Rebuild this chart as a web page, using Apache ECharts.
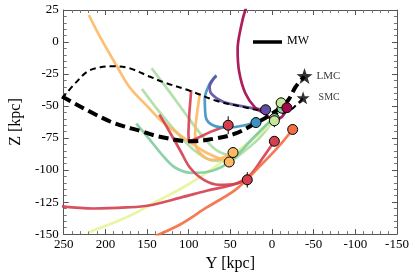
<!DOCTYPE html>
<html><head><meta charset="utf-8">
<script src="https://cdn.jsdelivr.net/npm/echarts@6/dist/echarts.min.js"></script>
<style>html,body{margin:0;padding:0;background:#fff}#c{width:415px;height:277px}</style>
</head><body><div id="c"></div>
<script>
// Tick labels
const xTicks = [250, 200, 150, 100, 50, 0, -50, -100, -150];
const yTicks = [25, 0, -25, -50, -75, -100, -125, -150];
const xName = 'Y [kpc]';
const yName = 'Z [kpc]';

// Orbits [Y, Z] in kpc
const orbitLMC = [[252,-42.5],[194.3,-62.1],[156.1,-69.8],[136.4,-73.7],[98.1,-77.5],[66.8,-75.2],[43.6,-71.4],[20.4,-63.7],[5.4,-58.3],[-17.8,-46.7],[-28.3,-35.1],[-38.7,-26.7]];
const orbitSMC = [[252,-44],[234.9,-31.3],[221,-22.8],[206,-19.7],[190.9,-18.9],[171.2,-20.5],[148,-26.7],[130.6,-31.3],[98.1,-38.2],[66.8,-45.9],[35.5,-50.6],[8.8,-54.4],[-8.6,-56],[-22.5,-52.9],[-31.7,-47.5],[-37.5,-43.6]];
const orbitMagenta = [[26,34],[32,25],[36.7,13.4],[41.3,-5.8],[39.5,-23],[32,-40],[20.5,-51],[8.8,-56],[-2.8,-60.6],[-12,-58.3],[-17.8,-52.1]];
const orbitPurple = [[66.8,-26.7],[70.3,-29],[74.9,-35.1],[72.6,-40.5],[58.7,-46.7],[32,-50.6],[7.7,-52.9]];
const orbitTeal = [[66.8,-25.9],[75,-32.8],[80.7,-44.4],[79.6,-58.3],[70.3,-65.2],[52.9,-66.8],[34.3,-65.2],[19.3,-62.9]];
const orbitCrimsonA = [[97,-37.5],[99.3,-56],[100.4,-71.4],[99.8,-77.8],[90,-75.2],[72.6,-69.8],[52.6,-65]];
const orbitCrimsonB = [[135.2,-56.7],[125.2,-67.5],[109.7,-85.3],[98.1,-98.4],[81.9,-107.6],[63.3,-111.5],[43.6,-110.7],[29.7,-107.6]];
const orbitCrimsonC = [[-2.8,-77.5],[11.2,-90.6],[25.1,-103],[43.6,-110.7],[78.4,-116.1],[109.7,-121.5],[148,-127.7],[174.6,-129.2],[214.1,-130],[252.3,-128.4]];
const orbitOrangeRed = [[-24.8,-68.3],[-6.2,-82.9],[20.4,-100.7],[43.6,-115.3],[78.4,-129.2],[109.7,-142.3],[140,-151.5]];
const orbitOrangeA = [[219.9,21.1],[205.9,3.4],[186.2,-18.9],[171.2,-35.1],[148,-51.3],[132.9,-61.4],[105.1,-75.2],[81.9,-85.3],[64.5,-90.6],[51.4,-93.7]];
const orbitOrangeB = [[86.5,-39.8],[90,-56],[92.3,-71.4],[91.2,-81.4],[84.2,-88.3],[72.6,-92.2],[59.9,-90.6],[46.8,-86.3]];
const orbitYellowGreen = [[219.9,-148.5],[174.6,-136.9],[136.4,-123.8],[107.4,-113.8],[70.3,-98.4],[32,-80.6],[8.8,-68.3],[-2.8,-60.6]];
const orbitGreen = [[163,-63.7],[148,-75.2],[130.6,-89.1],[115.5,-98.4],[95.8,-102.2],[72.6,-100.7],[49.4,-93],[26.2,-77.5],[8.8,-66],[-2.8,-59]];
const orbitLightGreenA = [[144.5,-20.5],[124.8,-37.4],[103.9,-56],[84.2,-72.9],[66.8,-84.5],[49.4,-88.3],[32,-80.6],[14.6,-69.8],[-0.4,-59.8],[-10.9,-47.5]];
const orbitLightGreenB = [[156.1,-36.7],[136.4,-53.6],[115.5,-69.8],[93.5,-84.5],[72.6,-92.2],[52.9,-93],[32,-84.5],[11.2,-72.1],[-12,-50.6]];

// Present-day positions [Y, Z]
const ptsMagenta = [[-17.8,-51.3]];
const ptsCrimson = [[52.6,-65],[-2.8,-77.5],[29.7,-107.6]];
const ptsOrangeRed = [[-24.8,-68.3]];
const ptsOrange = [[46.8,-86.3],[51.4,-93.7]];
const ptsYellowGreen = [[-10.9,-47.5],[-2.8,-61.5]];
const ptsLightGreen = [[-12,-51.7],[-2.8,-59.8]];
const ptsTeal = [[19.3,-62.9]];
const ptsPurple = [[7.7,-52.9]];
// Error bars [Y, Z, dZ]
const errBars = [[52.6,-65,7],[29.7,-107.6,6],[-2.8,-61.5,5],[-10.9,-47.5,4],[46.8,-86.3,4]];
// Clouds
const lmc = [[-39,-26.6]];
const smc = [[-37.3,-43.6]];

const FONT = 'Liberation Serif';
const starPath = 'path://M0,-10 L2.35,-3.24 L9.51,-3.09 L3.8,1.24 L5.88,8.09 L0,4 L-5.88,8.09 L-3.8,1.24 L-9.51,-3.09 L-2.35,-3.24 Z';

function orbit(data, color, smooth) {
  return {type:'line', data, symbol:'none', smooth: smooth === undefined ? 0.35 : smooth, z:2,
    lineStyle:{color, width:2.7, opacity:0.9}, silent:true};
}
function pts(data, color) {
  return {type:'scatter', data, symbol:'circle', symbolSize:10, z:6,
    itemStyle:{color, borderColor:'#000', borderWidth:1, opacity:1}};
}

function axisCommon() {
  return {
    axisLine:{show:true, onZero:false, lineStyle:{color:'#555', width:1}},
    axisTick:{show:true, inside:true, length:5, lineStyle:{color:'#555'}},
    minorTick:{show:true, splitNumber:5, length:3, lineStyle:{color:'#777'}},
    splitLine:{show:false}
  };
}
const xMin = Math.min(...xTicks), xMax = Math.max(...xTicks);
const yMin = Math.min(...yTicks), yMax = Math.max(...yTicks);
const xInt = Math.abs(xTicks[0]-xTicks[1]), yInt = Math.abs(yTicks[0]-yTicks[1]);

const chart = echarts.init(document.getElementById('c'), null, {renderer:'canvas'});
chart.setOption({
  animation:false,
  grid:{left:52, right:18, top:10, bottom:40, containLabel:false},
  xAxis:[
    Object.assign({type:'value', min:xMin, max:xMax, interval:xInt, inverse:true, position:'bottom',
      name:xName, nameLocation:'middle', nameGap:19,
      nameTextStyle:{fontFamily:FONT, fontSize:16, color:'#000'},
      axisLabel:{fontFamily:FONT, fontSize:13, color:'#000', margin:4, showMinLabel:true, showMaxLabel:true}}, axisCommon()),
    Object.assign({type:'value', min:xMin, max:xMax, interval:xInt, inverse:true, position:'top',
      axisLabel:{show:false}}, axisCommon())
  ],
  yAxis:[
    Object.assign({type:'value', min:yMin, max:yMax, interval:yInt, position:'left',
      name:yName, nameLocation:'middle', nameGap:32,
      nameTextStyle:{fontFamily:FONT, fontSize:16, color:'#000'},
      axisLabel:{fontFamily:FONT, fontSize:13, color:'#000', margin:5, showMinLabel:true, showMaxLabel:true}}, axisCommon()),
    Object.assign({type:'value', min:yMin, max:yMax, interval:yInt, position:'right',
      axisLabel:{show:false}}, axisCommon())
  ],
  graphic:[
    {type:'line', shape:{x1:253, y1:42, x2:282, y2:42}, style:{stroke:'#000', lineWidth:3.5}},
    {type:'text', left:287, top:35, style:{text:'MW', font:'12px "Liberation Serif"', fill:'#000'}}
  ],
  series:[
    orbit(orbitLightGreenB, '#abdda4'),
    orbit(orbitLightGreenA, '#abdda4'),
    orbit(orbitYellowGreen, '#e6f598'),
    orbit(orbitGreen, '#7fcca0'),
    orbit(orbitOrangeA, '#fdb863'),
    orbit(orbitOrangeB, '#fdb863'),
    orbit(orbitCrimsonB, '#d53e4f'),
    orbit(orbitCrimsonC, '#d53e4f'),
    orbit(orbitOrangeRed, '#f46d43'),
    orbit(orbitCrimsonA, '#d53e4f', false),
    orbit(orbitTeal, '#3a92c0'),
    orbit(orbitPurple, '#5e4fa2'),
    orbit(orbitMagenta, '#a3064a'),
    {type:'line', data:orbitSMC, symbol:'none', smooth:0.35, z:4,
      lineStyle:{color:'#000', width:2, type:[6,4]}},
    {type:'line', data:orbitLMC, symbol:'none', smooth:0.35, z:4,
      lineStyle:{color:'#000', width:4, type:[10,5]}},
    {type:'custom', z:5, data:errBars,
      renderItem:function(params, api){
        const a = api.coord([api.value(0), api.value(1)-api.value(2)]);
        const b = api.coord([api.value(0), api.value(1)+api.value(2)]);
        return {type:'line', shape:{x1:a[0], y1:a[1], x2:b[0], y2:b[1]}, style:{stroke:'#000', lineWidth:1}};
      }},
    pts(ptsCrimson, '#d53e4f'),
    pts(ptsOrangeRed, '#f46d43'),
    pts(ptsOrange, '#fdb863'),
    pts(ptsTeal, '#3a92c0'),
    pts(ptsPurple, '#5e4fa2'),
    pts(ptsLightGreen, '#8fd19e'),
    pts(ptsYellowGreen, '#c7e89a'),
    pts(ptsMagenta, '#a3064a'),
    {type:'scatter', data:lmc, symbol:starPath, symbolSize:16, z:7, itemStyle:{color:'#000'},
      label:{show:true, position:'right', distance:4, formatter:'LMC', fontFamily:FONT, fontSize:11, color:'#000'}},
    {type:'scatter', data:smc, symbol:starPath, symbolSize:13, z:7, itemStyle:{color:'#000'},
      label:{show:true, position:'right', distance:9, formatter:'SMC', fontFamily:FONT, fontSize:10, color:'#000'}}
  ]
});
</script></body></html>
